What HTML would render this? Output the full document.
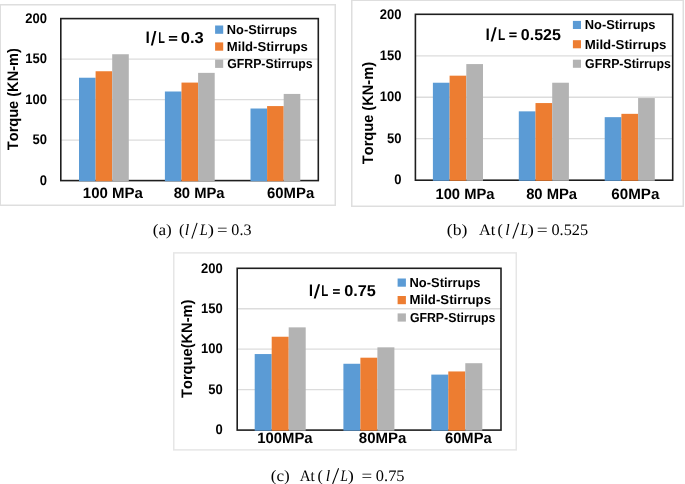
<!DOCTYPE html>
<html><head><meta charset="utf-8"><style>
html,body{margin:0;padding:0;background:#fff;}
body{width:685px;height:484px;overflow:hidden;}
svg{display:block;will-change:transform;}
text{font-kerning:none;text-rendering:geometricPrecision;}
</style></head><body>
<svg width="685" height="484" viewBox="0 0 685 484">
<rect x="0.25" y="4.75" width="335.0" height="200.5" fill="#fff" stroke="#dedede" stroke-width="1.5"/>
<line x1="60.80" y1="140.10" x2="318.30" y2="140.10" stroke="#dcdcdc" stroke-width="1.3"/>
<line x1="60.80" y1="99.60" x2="318.30" y2="99.60" stroke="#dcdcdc" stroke-width="1.3"/>
<line x1="60.80" y1="59.10" x2="318.30" y2="59.10" stroke="#dcdcdc" stroke-width="1.3"/>
<rect x="60.8" y="18.6" width="257.5" height="162.0" fill="none" stroke="#1e1e1e" stroke-width="1.6"/>
<rect x="79.00" y="77.73" width="16.60" height="103.47" fill="#5B9BD5" />
<rect x="95.60" y="71.25" width="16.60" height="109.95" fill="#ED7D31" />
<rect x="112.20" y="54.24" width="16.60" height="126.96" fill="#B3B3B3" />
<rect x="164.90" y="91.50" width="16.60" height="89.70" fill="#5B9BD5" />
<rect x="181.50" y="82.59" width="16.60" height="98.61" fill="#ED7D31" />
<rect x="198.10" y="72.87" width="16.60" height="108.33" fill="#B3B3B3" />
<rect x="250.50" y="108.51" width="16.60" height="72.69" fill="#5B9BD5" />
<rect x="267.10" y="106.08" width="16.60" height="75.12" fill="#ED7D31" />
<rect x="283.70" y="93.93" width="16.60" height="87.27" fill="#B3B3B3" />
<text x="39.79" y="184.80" font-family="Liberation Sans" font-weight="bold" font-style="normal" font-size="14" textLength="7.24" lengthAdjust="spacingAndGlyphs" fill="#000" >0</text>
<text x="32.55" y="144.30" font-family="Liberation Sans" font-weight="bold" font-style="normal" font-size="14" textLength="14.48" lengthAdjust="spacingAndGlyphs" fill="#000" >50</text>
<text x="25.31" y="103.80" font-family="Liberation Sans" font-weight="bold" font-style="normal" font-size="14" textLength="21.72" lengthAdjust="spacingAndGlyphs" fill="#000" >100</text>
<text x="25.31" y="63.30" font-family="Liberation Sans" font-weight="bold" font-style="normal" font-size="14" textLength="21.72" lengthAdjust="spacingAndGlyphs" fill="#000" >150</text>
<text x="25.31" y="22.80" font-family="Liberation Sans" font-weight="bold" font-style="normal" font-size="14" textLength="21.72" lengthAdjust="spacingAndGlyphs" fill="#000" >200</text>
<text transform="translate(18.20,150.16) rotate(-90)" x="0" y="0" font-family="Liberation Sans" font-weight="bold" font-size="15.2" textLength="101.99" lengthAdjust="spacingAndGlyphs" fill="#000">Torque (KN-m)</text>
<text x="145.56" y="43.10" font-family="Liberation Sans" font-weight="bold" font-style="normal" font-size="15.8" textLength="4.39" lengthAdjust="spacingAndGlyphs" fill="#000" >l</text>
<polygon points="150.80,45.40 152.80,45.40 156.40,31.10 154.40,31.10" fill="#000"/>
<text x="158.37" y="43.10" font-family="Liberation Sans" font-weight="bold" font-style="normal" font-size="15.8" textLength="6.67" lengthAdjust="spacingAndGlyphs" fill="#000" >L</text>
<rect x="168.90" y="36.00" width="8.30" height="1.60" fill="#000" />
<rect x="168.90" y="39.20" width="8.30" height="1.60" fill="#000" />
<text x="180.85" y="43.10" font-family="Liberation Sans" font-weight="bold" font-style="normal" font-size="15.8" textLength="22.95" lengthAdjust="spacingAndGlyphs" fill="#000" >0.3</text>
<rect x="215.10" y="25.50" width="8.10" height="8.30" fill="#5B9BD5" />
<text x="226.84" y="33.90" font-family="Liberation Sans" font-weight="bold" font-style="normal" font-size="13" textLength="70.38" lengthAdjust="spacingAndGlyphs" fill="#000" >No-Stirrups</text>
<rect x="215.10" y="42.40" width="8.10" height="8.30" fill="#ED7D31" />
<text x="226.82" y="50.70" font-family="Liberation Sans" font-weight="bold" font-style="normal" font-size="13" textLength="80.92" lengthAdjust="spacingAndGlyphs" fill="#000" >Mild-Stirrups</text>
<rect x="215.10" y="59.60" width="8.10" height="8.30" fill="#B3B3B3" />
<text x="227.20" y="67.60" font-family="Liberation Sans" font-weight="bold" font-style="normal" font-size="13" textLength="85.41" lengthAdjust="spacingAndGlyphs" fill="#000" >GFRP-Stirrups</text>
<text x="82.85" y="197.80" font-family="Liberation Sans" font-weight="bold" font-style="normal" font-size="15" textLength="60.05" lengthAdjust="spacingAndGlyphs" fill="#000" >100 MPa</text>
<text x="173.63" y="197.80" font-family="Liberation Sans" font-weight="bold" font-style="normal" font-size="15" textLength="50.98" lengthAdjust="spacingAndGlyphs" fill="#000" >80 MPa</text>
<text x="267.06" y="197.80" font-family="Liberation Sans" font-weight="bold" font-style="normal" font-size="15" textLength="47.15" lengthAdjust="spacingAndGlyphs" fill="#000" >60MPa</text>
<rect x="351.75" y="0.25" width="331.5" height="206.0" fill="#fff" stroke="#dedede" stroke-width="1.5"/>
<line x1="415.40" y1="138.72" x2="672.70" y2="138.72" stroke="#dcdcdc" stroke-width="1.3"/>
<line x1="415.40" y1="97.25" x2="672.70" y2="97.25" stroke="#dcdcdc" stroke-width="1.3"/>
<line x1="415.40" y1="55.78" x2="672.70" y2="55.78" stroke="#dcdcdc" stroke-width="1.3"/>
<rect x="415.4" y="14.3" width="257.30000000000007" height="165.89999999999998" fill="none" stroke="#1e1e1e" stroke-width="1.6"/>
<rect x="432.90" y="82.73" width="16.70" height="98.07" fill="#5B9BD5" />
<rect x="449.60" y="75.68" width="16.70" height="105.12" fill="#ED7D31" />
<rect x="466.30" y="64.07" width="16.70" height="116.73" fill="#B3B3B3" />
<rect x="518.80" y="111.35" width="16.70" height="69.45" fill="#5B9BD5" />
<rect x="535.50" y="103.06" width="16.70" height="77.74" fill="#ED7D31" />
<rect x="552.20" y="82.73" width="16.70" height="98.07" fill="#B3B3B3" />
<rect x="604.70" y="117.16" width="16.70" height="63.64" fill="#5B9BD5" />
<rect x="621.40" y="113.84" width="16.70" height="66.96" fill="#ED7D31" />
<rect x="638.10" y="98.08" width="16.70" height="82.72" fill="#B3B3B3" />
<text x="394.29" y="184.40" font-family="Liberation Sans" font-weight="bold" font-style="normal" font-size="14" textLength="7.24" lengthAdjust="spacingAndGlyphs" fill="#000" >0</text>
<text x="387.05" y="142.92" font-family="Liberation Sans" font-weight="bold" font-style="normal" font-size="14" textLength="14.48" lengthAdjust="spacingAndGlyphs" fill="#000" >50</text>
<text x="379.81" y="101.45" font-family="Liberation Sans" font-weight="bold" font-style="normal" font-size="14" textLength="21.72" lengthAdjust="spacingAndGlyphs" fill="#000" >100</text>
<text x="379.81" y="59.98" font-family="Liberation Sans" font-weight="bold" font-style="normal" font-size="14" textLength="21.72" lengthAdjust="spacingAndGlyphs" fill="#000" >150</text>
<text x="379.81" y="18.50" font-family="Liberation Sans" font-weight="bold" font-style="normal" font-size="14" textLength="21.72" lengthAdjust="spacingAndGlyphs" fill="#000" >200</text>
<text transform="translate(373.20,164.16) rotate(-90)" x="0" y="0" font-family="Liberation Sans" font-weight="bold" font-size="15.2" textLength="102.19" lengthAdjust="spacingAndGlyphs" fill="#000">Torque (KN-m)</text>
<text x="485.46" y="39.50" font-family="Liberation Sans" font-weight="bold" font-style="normal" font-size="15.8" textLength="4.39" lengthAdjust="spacingAndGlyphs" fill="#000" >l</text>
<polygon points="490.60,41.60 492.60,41.60 496.70,27.20 494.70,27.20" fill="#000"/>
<text x="498.10" y="39.50" font-family="Liberation Sans" font-weight="bold" font-style="normal" font-size="15.8" textLength="7.26" lengthAdjust="spacingAndGlyphs" fill="#000" >L</text>
<rect x="509.30" y="32.40" width="7.30" height="1.60" fill="#000" />
<rect x="509.30" y="35.60" width="7.30" height="1.60" fill="#000" />
<text x="520.87" y="39.50" font-family="Liberation Sans" font-weight="bold" font-style="normal" font-size="15.8" textLength="40.08" lengthAdjust="spacingAndGlyphs" fill="#000" >0.525</text>
<rect x="572.90" y="20.90" width="8.10" height="8.10" fill="#5B9BD5" />
<text x="584.74" y="29.30" font-family="Liberation Sans" font-weight="bold" font-style="normal" font-size="13" textLength="70.79" lengthAdjust="spacingAndGlyphs" fill="#000" >No-Stirrups</text>
<rect x="572.90" y="40.20" width="8.10" height="8.10" fill="#ED7D31" />
<text x="584.71" y="48.70" font-family="Liberation Sans" font-weight="bold" font-style="normal" font-size="13" textLength="81.63" lengthAdjust="spacingAndGlyphs" fill="#000" >Mild-Stirrups</text>
<rect x="572.90" y="59.70" width="8.10" height="8.10" fill="#B3B3B3" />
<text x="585.09" y="68.00" font-family="Liberation Sans" font-weight="bold" font-style="normal" font-size="13" textLength="85.71" lengthAdjust="spacingAndGlyphs" fill="#000" >GFRP-Stirrups</text>
<text x="435.47" y="199.30" font-family="Liberation Sans" font-weight="bold" font-style="normal" font-size="15" textLength="59.04" lengthAdjust="spacingAndGlyphs" fill="#000" >100 MPa</text>
<text x="526.13" y="199.30" font-family="Liberation Sans" font-weight="bold" font-style="normal" font-size="15" textLength="50.98" lengthAdjust="spacingAndGlyphs" fill="#000" >80 MPa</text>
<text x="611.34" y="199.30" font-family="Liberation Sans" font-weight="bold" font-style="normal" font-size="15" textLength="48.06" lengthAdjust="spacingAndGlyphs" fill="#000" >60MPa</text>
<rect x="173.75" y="252.9" width="342.5" height="196.99999999999997" fill="#fff" stroke="#e6e6e6" stroke-width="1.5"/>
<line x1="237.20" y1="389.65" x2="501.00" y2="389.65" stroke="#dcdcdc" stroke-width="1.3"/>
<line x1="237.20" y1="349.20" x2="501.00" y2="349.20" stroke="#dcdcdc" stroke-width="1.3"/>
<line x1="237.20" y1="308.75" x2="501.00" y2="308.75" stroke="#dcdcdc" stroke-width="1.3"/>
<rect x="237.2" y="268.3" width="263.8" height="161.8" fill="none" stroke="#1e1e1e" stroke-width="1.6"/>
<rect x="254.70" y="354.05" width="17.00" height="76.65" fill="#5B9BD5" />
<rect x="271.70" y="336.74" width="17.00" height="93.96" fill="#ED7D31" />
<rect x="288.70" y="327.36" width="17.00" height="103.34" fill="#B3B3B3" />
<rect x="343.40" y="363.76" width="17.00" height="66.94" fill="#5B9BD5" />
<rect x="360.40" y="357.69" width="17.00" height="73.01" fill="#ED7D31" />
<rect x="377.40" y="347.34" width="17.00" height="83.36" fill="#B3B3B3" />
<rect x="431.30" y="374.60" width="17.00" height="56.10" fill="#5B9BD5" />
<rect x="448.30" y="371.45" width="17.00" height="59.25" fill="#ED7D31" />
<rect x="465.30" y="363.20" width="17.00" height="67.50" fill="#B3B3B3" />
<text x="215.39" y="434.30" font-family="Liberation Sans" font-weight="bold" font-style="normal" font-size="14" textLength="7.24" lengthAdjust="spacingAndGlyphs" fill="#000" >0</text>
<text x="208.15" y="393.85" font-family="Liberation Sans" font-weight="bold" font-style="normal" font-size="14" textLength="14.48" lengthAdjust="spacingAndGlyphs" fill="#000" >50</text>
<text x="200.91" y="353.40" font-family="Liberation Sans" font-weight="bold" font-style="normal" font-size="14" textLength="21.72" lengthAdjust="spacingAndGlyphs" fill="#000" >100</text>
<text x="200.91" y="312.95" font-family="Liberation Sans" font-weight="bold" font-style="normal" font-size="14" textLength="21.72" lengthAdjust="spacingAndGlyphs" fill="#000" >150</text>
<text x="200.91" y="272.50" font-family="Liberation Sans" font-weight="bold" font-style="normal" font-size="14" textLength="21.72" lengthAdjust="spacingAndGlyphs" fill="#000" >200</text>
<text transform="translate(191.60,397.96) rotate(-90)" x="0" y="0" font-family="Liberation Sans" font-weight="bold" font-size="15.2" textLength="98.39" lengthAdjust="spacingAndGlyphs" fill="#000">Torque(KN-m)</text>
<text x="308.86" y="296.20" font-family="Liberation Sans" font-weight="bold" font-style="normal" font-size="15.8" textLength="4.39" lengthAdjust="spacingAndGlyphs" fill="#000" >l</text>
<polygon points="313.70,298.40 315.70,298.40 320.10,284.30 318.10,284.30" fill="#000"/>
<text x="321.33" y="296.20" font-family="Liberation Sans" font-weight="bold" font-style="normal" font-size="15.8" textLength="7.02" lengthAdjust="spacingAndGlyphs" fill="#000" >L</text>
<rect x="333.00" y="289.10" width="6.80" height="1.60" fill="#000" />
<rect x="333.00" y="292.30" width="6.80" height="1.60" fill="#000" />
<text x="344.16" y="296.20" font-family="Liberation Sans" font-weight="bold" font-style="normal" font-size="15.8" textLength="31.70" lengthAdjust="spacingAndGlyphs" fill="#000" >0.75</text>
<rect x="397.60" y="278.50" width="8.30" height="8.20" fill="#5B9BD5" />
<text x="409.54" y="287.00" font-family="Liberation Sans" font-weight="bold" font-style="normal" font-size="13" textLength="70.99" lengthAdjust="spacingAndGlyphs" fill="#000" >No-Stirrups</text>
<rect x="397.60" y="296.00" width="8.30" height="8.20" fill="#ED7D31" />
<text x="409.52" y="304.30" font-family="Liberation Sans" font-weight="bold" font-style="normal" font-size="13" textLength="81.53" lengthAdjust="spacingAndGlyphs" fill="#000" >Mild-Stirrups</text>
<rect x="397.60" y="313.40" width="8.30" height="8.20" fill="#B3B3B3" />
<text x="409.89" y="321.80" font-family="Liberation Sans" font-weight="bold" font-style="normal" font-size="13" textLength="85.51" lengthAdjust="spacingAndGlyphs" fill="#000" >GFRP-Stirrups</text>
<text x="257.26" y="443.00" font-family="Liberation Sans" font-weight="bold" font-style="normal" font-size="15" textLength="55.34" lengthAdjust="spacingAndGlyphs" fill="#000" >100MPa</text>
<text x="358.82" y="443.00" font-family="Liberation Sans" font-weight="bold" font-style="normal" font-size="15" textLength="47.58" lengthAdjust="spacingAndGlyphs" fill="#000" >80MPa</text>
<text x="444.96" y="443.00" font-family="Liberation Sans" font-weight="bold" font-style="normal" font-size="15" textLength="46.75" lengthAdjust="spacingAndGlyphs" fill="#000" >60MPa</text>
<text x="152.75" y="235.30" font-family="Liberation Serif" font-weight="normal" font-style="normal" font-size="16" textLength="19.01" lengthAdjust="spacingAndGlyphs" fill="#000" >(a)</text>
<text x="179.10" y="235.30" font-family="Liberation Serif" font-weight="normal" font-style="normal" font-size="16" textLength="5.33" lengthAdjust="spacingAndGlyphs" fill="#000" >(</text>
<text x="184.73" y="235.30" font-family="Liberation Serif" font-weight="normal" font-style="italic" font-size="16" textLength="4.45" lengthAdjust="spacingAndGlyphs" fill="#000" >l</text>
<line x1="191.80" y1="238.60" x2="197.10" y2="222.80" stroke="#000" stroke-width="1.05"/>
<text x="199.67" y="235.30" font-family="Liberation Serif" font-weight="normal" font-style="italic" font-size="16" textLength="8.01" lengthAdjust="spacingAndGlyphs" fill="#000" >L</text>
<text x="207.70" y="235.30" font-family="Liberation Serif" font-weight="normal" font-style="normal" font-size="16" textLength="6.22" lengthAdjust="spacingAndGlyphs" fill="#000" >)</text>
<text x="217.07" y="235.30" font-family="Liberation Serif" font-weight="normal" font-style="normal" font-size="16" textLength="10.54" lengthAdjust="spacingAndGlyphs" fill="#000" >=</text>
<text x="231.39" y="235.30" font-family="Liberation Serif" font-weight="normal" font-style="normal" font-size="16" textLength="20.04" lengthAdjust="spacingAndGlyphs" fill="#000" >0.3</text>
<text x="446.83" y="235.30" font-family="Liberation Serif" font-weight="normal" font-style="normal" font-size="16" textLength="20.55" lengthAdjust="spacingAndGlyphs" fill="#000" >(b)</text>
<text x="478.94" y="235.30" font-family="Liberation Serif" font-weight="normal" font-style="normal" font-size="16" textLength="16.36" lengthAdjust="spacingAndGlyphs" fill="#000" >At</text>
<text x="497.40" y="235.30" font-family="Liberation Serif" font-weight="normal" font-style="normal" font-size="16" textLength="5.33" lengthAdjust="spacingAndGlyphs" fill="#000" >(</text>
<text x="505.28" y="235.30" font-family="Liberation Serif" font-weight="normal" font-style="italic" font-size="16" textLength="4.45" lengthAdjust="spacingAndGlyphs" fill="#000" >l</text>
<line x1="512.80" y1="238.60" x2="518.60" y2="222.80" stroke="#000" stroke-width="1.05"/>
<text x="520.46" y="235.30" font-family="Liberation Serif" font-weight="normal" font-style="italic" font-size="16" textLength="7.48" lengthAdjust="spacingAndGlyphs" fill="#000" >L</text>
<text x="527.81" y="235.30" font-family="Liberation Serif" font-weight="normal" font-style="normal" font-size="16" textLength="6.09" lengthAdjust="spacingAndGlyphs" fill="#000" >)</text>
<text x="536.84" y="235.30" font-family="Liberation Serif" font-weight="normal" font-style="normal" font-size="16" textLength="10.91" lengthAdjust="spacingAndGlyphs" fill="#000" >=</text>
<text x="551.48" y="235.30" font-family="Liberation Serif" font-weight="normal" font-style="normal" font-size="16" textLength="36.55" lengthAdjust="spacingAndGlyphs" fill="#000" >0.525</text>
<text x="270.75" y="480.70" font-family="Liberation Serif" font-weight="normal" font-style="normal" font-size="16" textLength="19.01" lengthAdjust="spacingAndGlyphs" fill="#000" >(c)</text>
<text x="299.65" y="480.70" font-family="Liberation Serif" font-weight="normal" font-style="normal" font-size="16" textLength="15.14" lengthAdjust="spacingAndGlyphs" fill="#000" >At</text>
<text x="317.50" y="480.70" font-family="Liberation Serif" font-weight="normal" font-style="normal" font-size="16" textLength="5.33" lengthAdjust="spacingAndGlyphs" fill="#000" >(</text>
<text x="325.68" y="480.70" font-family="Liberation Serif" font-weight="normal" font-style="italic" font-size="16" textLength="4.45" lengthAdjust="spacingAndGlyphs" fill="#000" >l</text>
<line x1="332.60" y1="484.00" x2="338.60" y2="468.20" stroke="#000" stroke-width="1.05"/>
<text x="340.56" y="480.70" font-family="Liberation Serif" font-weight="normal" font-style="italic" font-size="16" textLength="7.37" lengthAdjust="spacingAndGlyphs" fill="#000" >L</text>
<text x="347.81" y="480.70" font-family="Liberation Serif" font-weight="normal" font-style="normal" font-size="16" textLength="6.09" lengthAdjust="spacingAndGlyphs" fill="#000" >)</text>
<text x="361.46" y="480.70" font-family="Liberation Serif" font-weight="normal" font-style="normal" font-size="16" textLength="10.67" lengthAdjust="spacingAndGlyphs" fill="#000" >=</text>
<text x="375.88" y="480.70" font-family="Liberation Serif" font-weight="normal" font-style="normal" font-size="16" textLength="28.66" lengthAdjust="spacingAndGlyphs" fill="#000" >0.75</text>
</svg>
</body></html>
